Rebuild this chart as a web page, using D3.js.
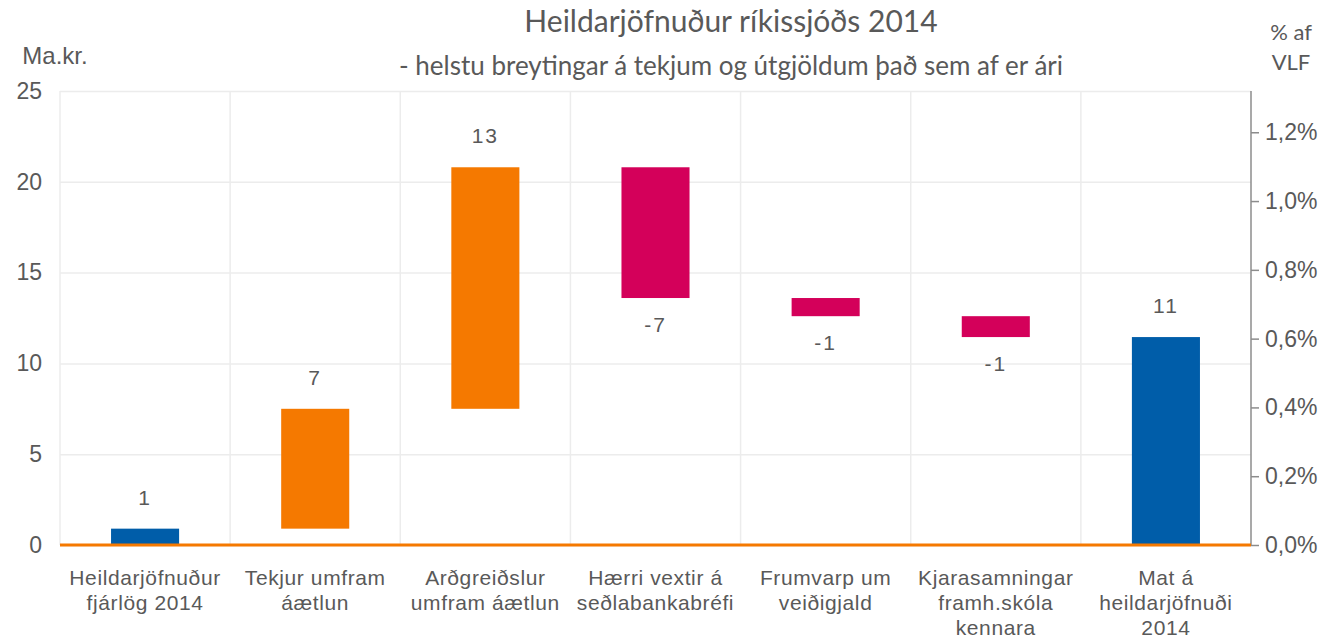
<!DOCTYPE html>
<html>
<head>
<meta charset="utf-8">
<script src="https://cdn.jsdelivr.net/npm/d3@7"></script>
<style>
  body { margin: 0; background: #fff; }
  svg { display: block; }
</style>
</head>
<body>
<div id="chart"></div>
<script>
// chart data
const categories = [
    ["Heildarjöfnuður", "fjárlög 2014"],
    ["Tekjur umfram", "áætlun"],
    ["Arðgreiðslur", "umfram áætlun"],
    ["Hærri vextir á", "seðlabankabréfi"],
    ["Frumvarp um", "veiðigjald"],
    ["Kjarasamningar", "framh.skóla", "kennara"],
    ["Mat á", "heildarjöfnuði", "2014"]
];
const values = [0.9, 6.6, 13.3, -7.2, -1.0, -1.15, 11.45];
const barTypes = ["total", "increase", "increase", "decrease", "decrease", "decrease", "total"];
const leftTicks = [0, 5, 10, 15, 20, 25];
const rightTicks = [0, 0.2, 0.4, 0.6, 0.8, 1.0, 1.2];
const rightMax = 1.32;

const width = 1330, height = 637;
const margin = { top: 91, right: 79, bottom: 92, left: 60 };
const innerWidth = width - margin.left - margin.right;
const innerHeight = height - margin.top - margin.bottom;

const colors = { total: "#005da9", increase: "#f57900", decrease: "#d4005a" };
const textColor = "#595959";
const sans = "'Liberation Sans', Arial, sans-serif";
const titleFont = "Lato, 'Open Sans', sans-serif";

// waterfall start / end
let running = 0;
const bars = values.map((v, i) => {
    let start, end;
    if (barTypes[i] === "total") { start = 0; end = v; running = v; }
    else { start = running; end = running + v; running = end; }
    return { i, value: v, type: barTypes[i], start, end };
});

const x = d3.scaleBand()
    .domain(d3.range(categories.length))
    .range([0, innerWidth])
    .paddingInner(0.6)
    .paddingOuter(0.3);

const y = d3.scaleLinear().domain([0, 25]).range([innerHeight, 0]);
const yRight = d3.scaleLinear().domain([0, rightMax]).range([innerHeight, 0]);

const svg = d3.select("#chart").append("svg")
    .attr("width", width)
    .attr("height", height);

const group = svg.append("g")
    .attr("transform", `translate(${margin.left}, ${margin.top})`);

// grid lines
group.append("g")
    .attr("class", "y-grid")
    .call(d3.axisLeft(y).tickValues(leftTicks).tickSize(-innerWidth).tickFormat(""))
    .call(g => g.select(".domain").remove())
    .call(g => g.selectAll(".tick line").attr("stroke", "#ececec").attr("stroke-width", 1.5));

const step = x.step();
group.append("g")
    .attr("class", "x-grid")
    .selectAll("line")
    .data(d3.range(categories.length))
    .join("line")
    .attr("x1", d => x(d) - step * x.paddingInner() / 2)
    .attr("x2", d => x(d) - step * x.paddingInner() / 2)
    .attr("y1", 0)
    .attr("y2", innerHeight)
    .attr("stroke", "#ececec")
    .attr("stroke-width", 1.5);

// left axis labels
group.append("g")
    .attr("class", "y-axis")
    .call(d3.axisLeft(y).tickValues(leftTicks).tickSize(0).tickPadding(18))
    .call(g => g.select(".domain").remove())
    .call(g => g.selectAll(".tick text")
        .style("font-family", sans)
        .style("font-size", "23px")
        .style("fill", textColor));

// right axis
const pct = d => d3.format(".1f")(d).replace(".", ",") + "%";
group.append("g")
    .attr("class", "y-axis-right")
    .attr("transform", `translate(${innerWidth}, 0)`)
    .call(d3.axisRight(yRight).tickValues(rightTicks).tickSize(8).tickPadding(6).tickFormat(pct))
    .call(g => g.select(".domain").attr("stroke", "#8c8c8c").attr("stroke-width", 1.5)
        .attr("d", `M0,0V${innerHeight}`))
    .call(g => g.selectAll(".tick line").attr("stroke", "#8c8c8c").attr("stroke-width", 1.5))
    .call(g => g.selectAll(".tick text")
        .style("font-family", sans)
        .style("font-size", "23px")
        .style("fill", textColor));

// bars
group.selectAll("rect.bar")
    .data(bars)
    .join("rect")
    .attr("class", "bar")
    .attr("x", d => x(d.i))
    .attr("y", d => y(Math.max(d.start, d.end)))
    .attr("width", x.bandwidth())
    .attr("height", d => Math.abs(y(d.start) - y(d.end)))
    .attr("fill", d => colors[d.type]);

// zero line
group.append("line")
    .attr("x1", 0)
    .attr("x2", innerWidth)
    .attr("y1", y(0))
    .attr("y2", y(0))
    .attr("stroke", "#f57900")
    .attr("stroke-width", 3);

// value labels
group.selectAll(".bar-label")
    .data(bars)
    .join("text")
    .attr("class", "bar-label")
    .attr("x", d => x(d.i) + x.bandwidth() / 2)
    .attr("y", d => d.value >= 0 ? y(d.end) - 24 : y(d.end) + 34)
    .attr("text-anchor", "middle")
    .style("font-family", sans)
    .style("font-size", "21px")
    .style("letter-spacing", "2px")
    .style("fill", textColor)
    .text(d => String(Math.round(d.value)));

// category labels
const catLabels = group.append("g")
    .attr("class", "x-labels")
    .selectAll("text")
    .data(categories)
    .join("text")
    .attr("x", (d, i) => x(i) + x.bandwidth() / 2)
    .attr("y", innerHeight + 40)
    .attr("text-anchor", "middle")
    .style("font-family", sans)
    .style("font-size", "21px")
    .style("letter-spacing", "0.6px")
    .style("fill", textColor);

catLabels.selectAll("tspan")
    .data(d => d)
    .join("tspan")
    .attr("x", function () { return d3.select(this.parentNode).attr("x"); })
    .attr("dy", (d, i) => i === 0 ? 0 : 25)
    .text(d => d);

// titles
svg.append("text")
    .attr("x", 731)
    .attr("y", 32)
    .attr("text-anchor", "middle")
    .style("font-family", titleFont)
    .style("font-size", "30px")
    .style("fill", textColor)
    .text("Heildarjöfnuður ríkissjóðs 2014");

svg.append("text")
    .attr("x", 731)
    .attr("y", 75)
    .attr("text-anchor", "middle")
    .style("font-family", titleFont)
    .style("font-size", "26px")
    .style("fill", textColor)
    .text("- helstu breytingar á tekjum og útgjöldum það sem af er ári");

svg.append("text")
    .attr("x", 55)
    .attr("y", 64)
    .attr("text-anchor", "middle")
    .style("font-family", sans)
    .style("font-size", "24px")
    .style("fill", textColor)
    .text("Ma.kr.");

const rightTitle = svg.append("text")
    .attr("x", 1291)
    .attr("y", 40)
    .attr("text-anchor", "middle")
    .style("font-family", titleFont)
    .style("font-size", "22px")
    .style("fill", textColor);
rightTitle.append("tspan").attr("x", 1291).attr("dy", 0).text("% af");
rightTitle.append("tspan").attr("x", 1291).attr("dy", 30).text("VLF");
</script>
</body>
</html>
